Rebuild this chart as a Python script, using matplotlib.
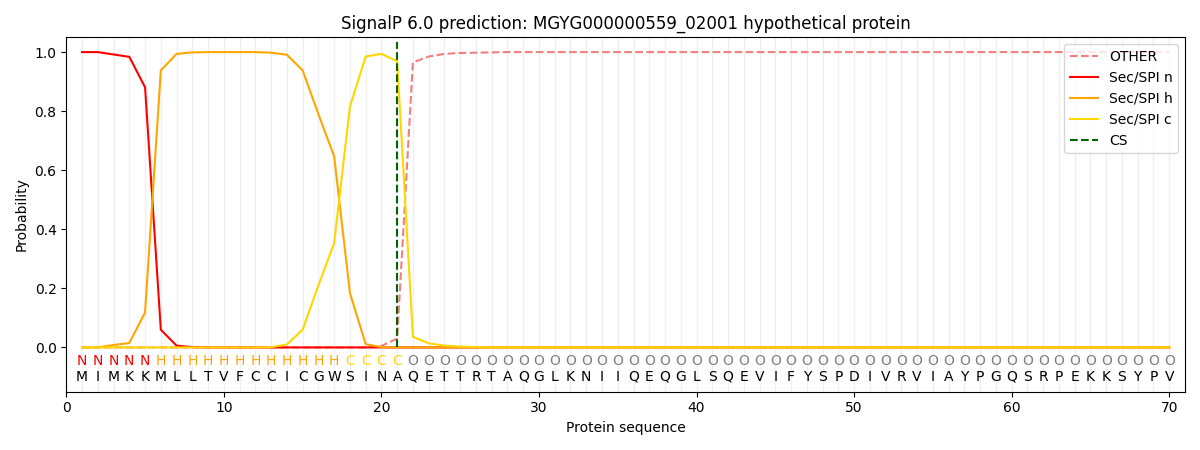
import matplotlib
matplotlib.use('Agg')
import matplotlib.pyplot as plt

seq = "MIMKKMLLTVFCCICGWSINAQETTRTAQGLKNIIQEQGLSQEVIFYSPDIVRVIAYPGQSRPEKKSYPV"
labels = "NNNNN" + "H" * 12 + "CCCC" + "O" * 49

sec_n = [1.0, 1.0, 0.992, 0.984, 0.881, 0.06, 0.006, 0.001, 0.0, 0.0,
         0.0, 0.0, 0.0, 0.0, 0.0, 0.0, 0.0, 0.0, 0.0, 0.0] + [0.0] * 50
sec_h = [0.0, 0.0, 0.008, 0.015, 0.118, 0.938, 0.994, 0.999, 1.0, 1.0,
         1.0, 1.0, 0.998, 0.991, 0.938, 0.79, 0.647, 0.185, 0.011, 0.001,
         0.0] + [0.0] * 49
sec_c = [0.0, 0.0, 0.0, 0.0, 0.0, 0.0, 0.0, 0.0, 0.0, 0.0,
         0.0, 0.0, 0.001, 0.01, 0.06, 0.21, 0.353, 0.815, 0.985, 0.994,
         0.969, 0.036, 0.014, 0.006, 0.003, 0.001] + [0.0] * 44
other = [0.0] * 19 + [0.005, 0.03, 0.965, 0.985, 0.994, 0.997, 0.998, 0.999] + [1.0] * 43
cs_pos = 21

label_colors = {'N': 'red', 'H': 'orange', 'C': 'gold', 'O': 'gray'}

pos = list(range(1, len(seq) + 1))

fig, ax = plt.subplots(figsize=(12, 4.5), dpi=100)
ax.vlines(pos, -0.15, 1.05, color='lightgray', alpha=0.35, linewidth=1, zorder=0)
ax.plot(pos, other, color='lightcoral', linestyle='--', linewidth=1.5, label='OTHER')
ax.plot(pos, sec_n, color='red', linewidth=1.5, label='Sec/SPI n')
ax.plot(pos, sec_h, color='orange', linewidth=1.5, label='Sec/SPI h')
ax.plot(pos, sec_c, color='gold', linewidth=1.5, label='Sec/SPI c')
ax.plot([cs_pos, cs_pos], [0, 1.035], color='darkgreen', linestyle='--', linewidth=1.5, label='CS')

for i, (aa, lab) in enumerate(zip(seq, labels)):
    ax.text(pos[i], -0.047, lab, color=label_colors[lab], ha='center', va='center', fontsize=10)
    ax.text(pos[i], -0.1, aa, color='black', ha='center', va='center', fontsize=10)

ax.set_xlim(0, len(seq) + 1)
ax.set_ylim(-0.15, 1.05)
ax.set_xlabel('Protein sequence')
ax.set_ylabel('Probability')
ax.set_title('SignalP 6.0 prediction: MGYG000000559_02001 hypothetical protein')
ax.legend(loc='upper right')
plt.tight_layout()
plt.savefig('out.png')
